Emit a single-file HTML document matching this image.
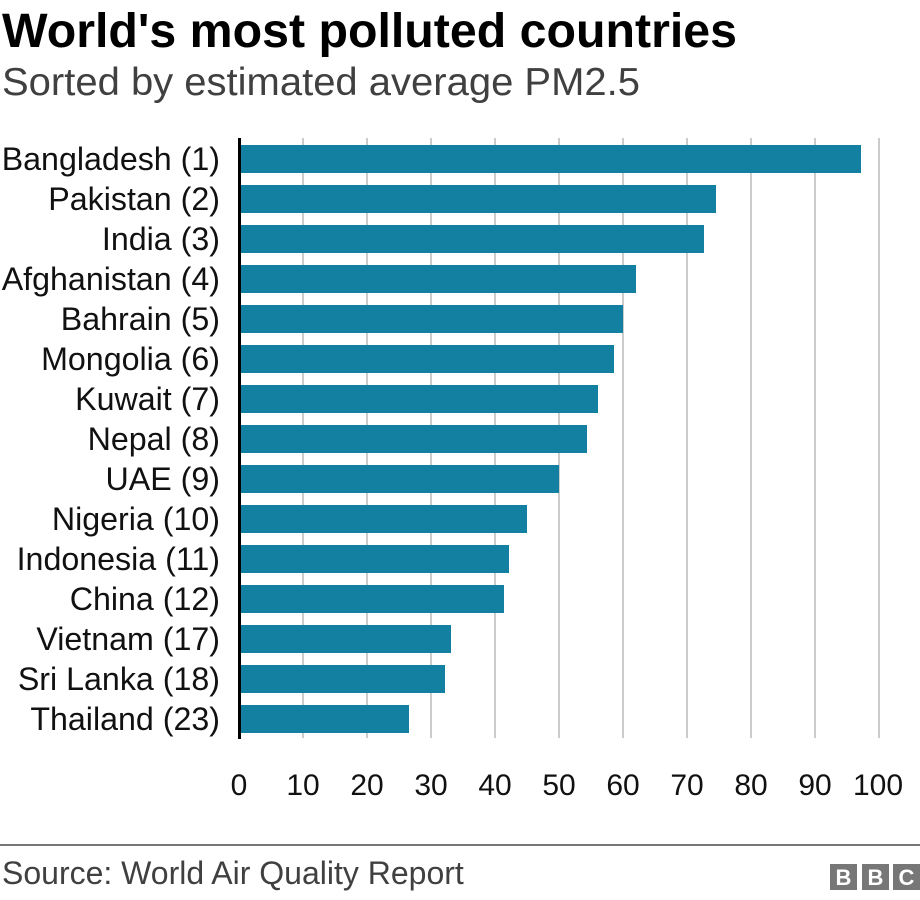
<!DOCTYPE html>
<html><head><meta charset="utf-8"><style>
body{margin:0;background:#fff;}
svg{display:block;font-family:"Liberation Sans",Arial,sans-serif;}
</style></head><body>
<svg width="920" height="900" xmlns="http://www.w3.org/2000/svg">
<text x="2" y="47" font-size="48" font-weight="bold" fill="#000" textLength="735" lengthAdjust="spacingAndGlyphs">World's most polluted countries</text>
<text x="2" y="95" font-size="39" fill="#404040" textLength="638" lengthAdjust="spacingAndGlyphs">Sorted by estimated average PM2.5</text>
<g stroke="#cccccc" stroke-width="2">
<line x1="303" y1="138" x2="303" y2="738"/><line x1="367" y1="138" x2="367" y2="738"/>
<line x1="431" y1="138" x2="431" y2="738"/><line x1="495" y1="138" x2="495" y2="738"/>
<line x1="559" y1="138" x2="559" y2="738"/><line x1="623" y1="138" x2="623" y2="738"/>
<line x1="687" y1="138" x2="687" y2="738"/><line x1="751" y1="138" x2="751" y2="738"/>
<line x1="815" y1="138" x2="815" y2="738"/><line x1="879" y1="138" x2="879" y2="738"/>
</g>
<g fill="#1380A1">
<rect x="241" y="145" width="620" height="28"/>
<rect x="241" y="185" width="475" height="28"/>
<rect x="241" y="225" width="463" height="28"/>
<rect x="241" y="265" width="395" height="28"/>
<rect x="241" y="305" width="382" height="28"/>
<rect x="241" y="345" width="373" height="28"/>
<rect x="241" y="385" width="357" height="28"/>
<rect x="241" y="425" width="346" height="28"/>
<rect x="241" y="465" width="318" height="28"/>
<rect x="241" y="505" width="286" height="28"/>
<rect x="241" y="545" width="268" height="28"/>
<rect x="241" y="585" width="263" height="28"/>
<rect x="241" y="625" width="210" height="28"/>
<rect x="241" y="665" width="204" height="28"/>
<rect x="241" y="705" width="168" height="28"/>
</g>
<rect x="238" y="138" width="3" height="601" fill="#000"/>
<g font-size="32.2" fill="#111" text-anchor="end">
<text x="220" y="170">Bangladesh (1)</text>
<text x="220" y="210">Pakistan (2)</text>
<text x="220" y="250">India (3)</text>
<text x="220" y="290">Afghanistan (4)</text>
<text x="220" y="330">Bahrain (5)</text>
<text x="220" y="370">Mongolia (6)</text>
<text x="220" y="410">Kuwait (7)</text>
<text x="220" y="450">Nepal (8)</text>
<text x="220" y="490">UAE (9)</text>
<text x="220" y="530">Nigeria (10)</text>
<text x="220" y="570">Indonesia (11)</text>
<text x="220" y="610">China (12)</text>
<text x="220" y="650">Vietnam (17)</text>
<text x="220" y="690">Sri Lanka (18)</text>
<text x="220" y="730">Thailand (23)</text>
</g>
<g font-size="30" fill="#111" text-anchor="middle">
<text x="239" y="795">0</text><text x="303" y="795">10</text><text x="367" y="795">20</text>
<text x="431" y="795">30</text><text x="495" y="795">40</text><text x="559" y="795">50</text>
<text x="623" y="795">60</text><text x="687" y="795">70</text><text x="751" y="795">80</text>
<text x="815" y="795">90</text><text x="878" y="795">100</text>
</g>
<rect x="0" y="844" width="920" height="2" fill="#777"/>
<text x="2" y="884" font-size="32" fill="#404040">Source: World Air Quality Report</text>
<g fill="#777">
<rect x="830" y="864" width="27" height="26"/><rect x="862" y="864" width="27" height="26"/><rect x="893" y="864" width="27" height="26"/>
</g>
<g font-size="22" font-weight="bold" fill="#fff" text-anchor="middle">
<text x="843.5" y="885">B</text><text x="875.5" y="885">B</text><text x="906.5" y="885">C</text>
</g>
</svg>
</body></html>
